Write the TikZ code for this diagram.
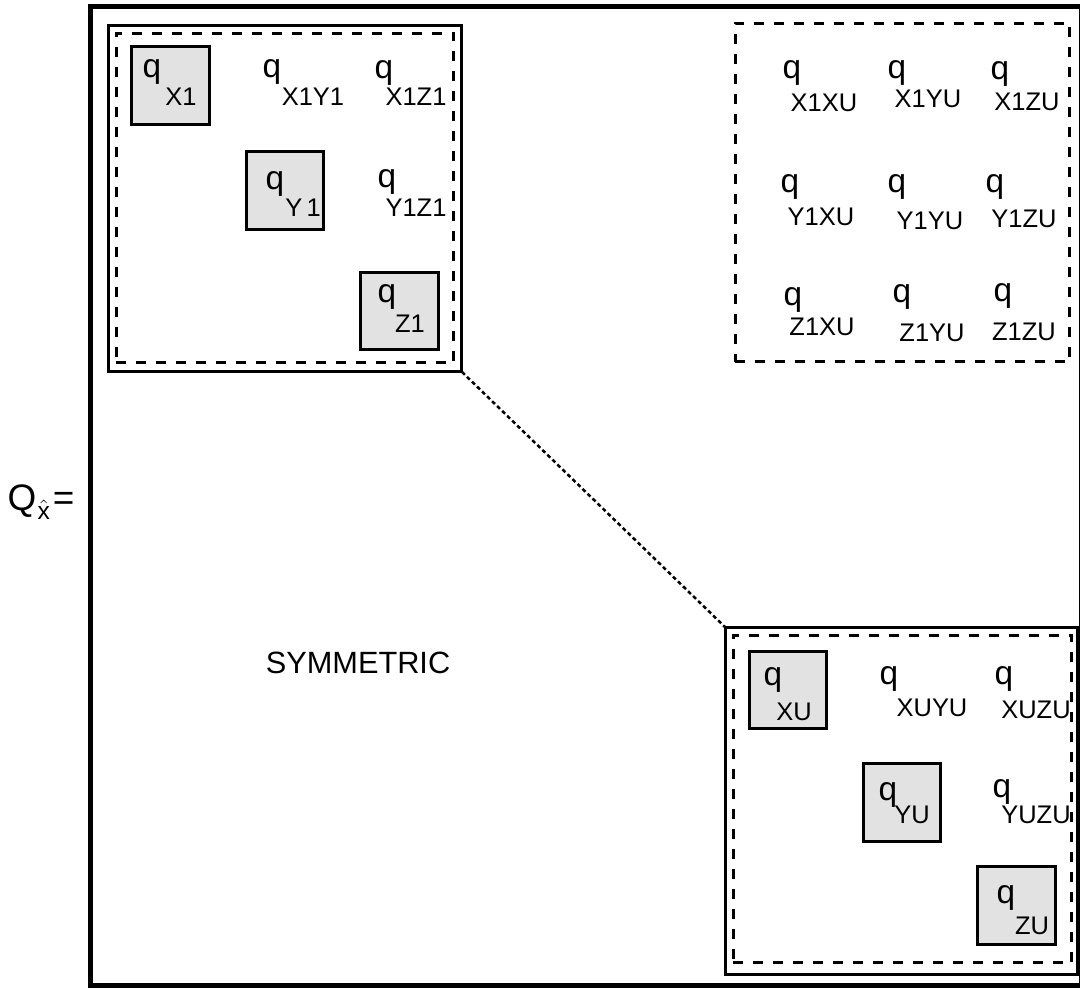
\documentclass[tikz,border=0pt]{standalone}
\usepackage{fontspec}
\setmainfont{Liberation Sans}
\usepackage{amsmath}
\usepackage{xcolor}
\definecolor{blkshade}{RGB}{226, 226, 226}
\usetikzlibrary{positioning}

\begin{document}
\begin{tikzpicture}[
    x=0.02cm, y=-0.02cm,
    block/.style={draw, line width=0.06cm, inner sep=0pt, outer sep=0pt, minimum width=#1},
    dblock/.style={draw, line width=0.06cm, dash pattern=on 0.2cm off 0.2cm, inner sep=0pt, minimum width=#1},
    diag/.style={draw, line width=0.06cm, fill=blkshade, inner sep=0pt, minimum size=1.56cm},
    qlab/.style={inner sep=0pt, font=\fontsize{19}{21}\selectfont},
    sublab/.style={inner sep=0pt, font=\fontsize{14.5}{16}\selectfont}
]
\useasboundingbox (0,0) rectangle (1080,989);

% Marco exterior
\draw[line width=0.1cm] (90,7) rectangle (1081,986);

% Etiqueta de la matriz
\node[font=\fontsize{21}{23}\selectfont, inner sep=0pt] (qlabel) at (41,502)
    {Q\hspace{0.04em}\raisebox{-0.5ex}{\fontsize{14}{16}\selectfont$\hat{\text{x}}$}\hspace{0.08em}=};

% Bloques
\node[block=7.08cm, minimum height=6.94cm] (blkA) at (285,198.5) {};
\node[dblock=6.76cm, minimum height=6.6cm] (dblkA) at (285,198) {};
\node[block=7.06cm, minimum height=6.96cm] (blkB) at (901.5,801) {};
\node[dblock=6.78cm, minimum height=6.56cm] (dblkB) at (902.5,799) {};
\node[dblock=6.7cm, minimum height=6.78cm] (dblkC) at (902.5,192.5) {};

% Elementos diagonales
\node[diag] (bX1) at (170.5,85.5) {};
\node[diag] (bY1) at (285,190.5) {};
\node[diag] (bZ1) at (399.5,311) {};
\node[diag] (bXU) at (788,690) {};
\node[diag] (bYU) at (902,802.5) {};
\node[diag] (bZU) at (1016.5,905.5) {};

% Entradas q
\foreach \n/\qx/\qy/\sx/\sy/\s in {
    X1/152/72/181/97/X1, X1Y1/272/72/313/97/X1Y1, X1Z1/384/73/416/97/X1Z1,
    Y1/275/184/303/208/Y\,1, Y1Z1/387/182/416/208/Y1Z1, Z1/387/297/410/324/Z1,
    X1XU/792/73/824/103/X1XU, X1YU/897/73/928/99/X1YU, X1ZU/1000/74/1027/102/X1ZU,
    Y1XU/790/187/821/217/Y1XU, Y1YU/897/187/930/221/Y1YU, Y1ZU/995/187/1024/219/Y1ZU,
    Z1XU/793/300/822/327/Z1XU, Z1YU/902/297/932/333/Z1YU, Z1ZU/1003/296/1024/332/Z1ZU,
    XU/773/680/794/712/XU, XUYU/889/679/932/708/XUYU, XUZU/1004/679/1036/710/XUZU,
    YU/888/795/912/815/YU, YUZU/1002/792/1036/815/YUZU, ZU/1006/898/1032/926/ZU} {
    \node[qlab] (q\n) at (\qx,\qy) {q};
    \node[sublab] (s\n) at (\sx,\sy) {\s};
}

% Parte simetrica
\node[font=\fontsize{17.5}{19}\selectfont, inner sep=0pt] (sym) at (358,663) {SYMMETRIC};

% Linea punteada entre bloques
\draw[line width=0.05cm, dash pattern=on 0.08cm off 0.06cm] (blkA.south east) -- (blkB.north west);

\end{tikzpicture}
\end{document}
